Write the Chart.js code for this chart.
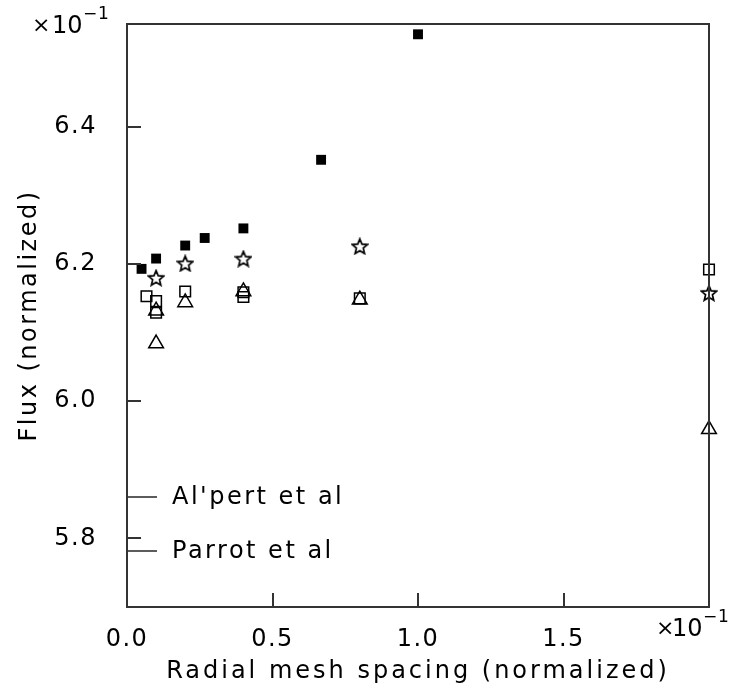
<!DOCTYPE html>
<html>
<head>
<meta charset="utf-8">
<script src="https://cdn.jsdelivr.net/npm/chart.js@4/dist/chart.umd.min.js"></script>
<style>
  html, body { margin: 0; padding: 0; background: #fff; }
  #wrap { width: 738px; height: 692px; }
</style>
</head>
<body>
<div id="wrap"><canvas id="myChart" width="738" height="692"></canvas></div>
<script>
// data
const xFilled = [0.05, 0.1, 0.2, 0.267, 0.4, 0.667, 1.0];
const yFilled = [6.193, 6.208, 6.227, 6.238, 6.252, 6.352, 6.535];
const xStar = [0.1, 0.2, 0.4, 0.8, 2.0];
const yStar = [6.180, 6.201, 6.208, 6.226, 6.158];
const xSquare = [0.067, 0.1, 0.1, 0.2, 0.4, 0.4, 0.8, 2.0];
const ySquare = [6.153, 6.146, 6.129, 6.160, 6.159, 6.152, 6.150, 6.192];
const xTriangle = [0.1, 0.1, 0.2, 0.4, 0.8, 2.0];
const yTriangle = [6.084, 6.132, 6.144, 6.160, 6.148, 5.959];

const xTicks = [0.0, 0.5, 1.0, 1.5];
const yTicks = [5.8, 6.0, 6.2, 6.4];
const refLabels = ["Al'pert et al", "Parrot et al"];
const refValues = [5.860, 5.781];

const FONT = "'DejaVu Sans', sans-serif";
const INK = '#000';
const AXIS = '#333';

// open five point star as a point image
function makeStar(size) {
    const c = document.createElement('canvas');
    c.width = size; c.height = size;
    const g = c.getContext('2d');
    const cx = size / 2, cy = size / 2 + 0.8;
    const R = size / 2 - 1, r = R * 0.45;
    g.beginPath();
    for (let i = 0; i < 10; i++) {
        const a = -Math.PI / 2 + i * Math.PI / 5;
        const rr = i % 2 === 0 ? R : r;
        const px = cx + rr * Math.cos(a), py = cy + rr * Math.sin(a);
        if (i === 0) g.moveTo(px, py); else g.lineTo(px, py);
    }
    g.closePath();
    g.lineWidth = 1.7;
    g.strokeStyle = INK;
    g.stroke();
    return c;
}

const pts = (xs, ys) => xs.map((x, i) => ({ x, y: ys[i] }));

const framePlugin = {
    id: 'frame',
    beforeDraw(chart) {
        chart.ctx.letterSpacing = '1.5px';
    },
    afterDraw(chart) {
        const { ctx, chartArea: a, scales } = chart;
        const xs = scales.x, ys = scales.y;
        ctx.save();
        ctx.strokeStyle = AXIS;
        ctx.lineWidth = 2;
        ctx.strokeRect(a.left, a.top, a.right - a.left, a.bottom - a.top);
        // inward ticks
        ctx.beginPath();
        xTicks.forEach(v => {
            if (v === 0) return;
            const px = Math.round(xs.getPixelForValue(v));
            ctx.moveTo(px, a.bottom); ctx.lineTo(px, a.bottom - 14);
        });
        yTicks.forEach(v => {
            const py = Math.round(ys.getPixelForValue(v));
            ctx.moveTo(a.left, py); ctx.lineTo(a.left + 14, py);
        });
        ctx.stroke();
        // reference values
        ctx.letterSpacing = '2.5px';
        ctx.lineWidth = 1.6;
        ctx.fillStyle = INK;
        ctx.font = '24px ' + FONT;
        ctx.textBaseline = 'middle';
        ctx.textAlign = 'left';
        refValues.forEach((v, i) => {
            const py = Math.round(ys.getPixelForValue(v));
            ctx.beginPath();
            ctx.moveTo(a.left, py); ctx.lineTo(a.left + 30, py);
            ctx.stroke();
            ctx.fillText(refLabels[i], a.left + 45, py + 1);
        });
        // axis titles
        ctx.textAlign = 'center';
        ctx.save();
        ctx.translate(30, (a.top + a.bottom) / 2);
        ctx.rotate(-Math.PI / 2);
        ctx.fillText('Flux (normalized)', 0, 0);
        ctx.restore();
        ctx.letterSpacing = '3px';
        ctx.fillText('Radial mesh spacing (normalized)', (a.left + a.right) / 2, 672);
        // exponent labels
        ctx.letterSpacing = '0px';
        const expo = (x, base, gap) => {
            ctx.textAlign = 'left';
            ctx.textBaseline = 'alphabetic';
            ctx.font = '22px ' + FONT;
            ctx.fillText('\u00d7', x, base - 1);
            ctx.font = '24px ' + FONT;
            ctx.fillText('10', x + gap, base);
            ctx.font = '17px ' + FONT;
            ctx.fillText('\u2212', x + gap + 31, base - 14);
            ctx.fillText('1', x + gap + 46, base - 14);
        };
        expo(32, 33, 20);
        expo(656, 636, 16);
        ctx.restore();
    }
};

const ctx = document.getElementById('myChart').getContext('2d');
const myChart = new Chart(ctx, {
    type: 'scatter',
    data: {
        datasets: [
            {
                label: 'filled',
                data: pts(xFilled, yFilled),
                pointStyle: 'rect',
                pointRadius: 7,
                backgroundColor: INK,
                borderColor: INK,
                borderWidth: 0
            },
            {
                label: 'star',
                data: pts(xStar, yStar),
                pointStyle: makeStar(18),
                pointRadius: 9
            },
            {
                label: 'square',
                data: pts(xSquare, ySquare),
                pointStyle: 'rect',
                pointRadius: 7.5,
                backgroundColor: 'rgba(0,0,0,0)',
                borderColor: INK,
                borderWidth: 1.5
            },
            {
                label: 'triangle',
                data: pts(xTriangle, yTriangle),
                pointStyle: 'triangle',
                pointRadius: 8.5,
                backgroundColor: 'rgba(0,0,0,0)',
                borderColor: INK,
                borderWidth: 1.5
            }
        ]
    },
    options: {
        responsive: false,
        animation: false,
        clip: false,
        layout: { padding: { left: 0, top: 24, right: 29, bottom: 0 } },
        plugins: { legend: { display: false }, tooltip: { enabled: false } },
        scales: {
            x: {
                type: 'linear',
                min: 0,
                max: 2.0,
                grid: { display: false },
                border: { display: false },
                afterBuildTicks: s => { s.ticks = xTicks.map(v => ({ value: v })); },
                afterFit: s => { s.height = 85; s.paddingLeft = 0; s.paddingRight = 0; },
                ticks: {
                    color: INK,
                    padding: 10,
                    maxRotation: 0,
                    font: { family: FONT, size: 24 },
                    callback: v => Number(v).toFixed(1)
                }
            },
            y: {
                type: 'linear',
                min: 5.70,
                max: 6.55,
                grid: { display: false },
                border: { display: false },
                afterBuildTicks: s => { s.ticks = yTicks.map(v => ({ value: v })); },
                afterFit: s => { s.width = 127; s.paddingTop = 0; s.paddingBottom = 0; },
                ticks: {
                    color: INK,
                    padding: 22,
                    font: { family: FONT, size: 24 },
                    callback: v => Number(v).toFixed(1)
                }
            }
        }
    },
    plugins: [framePlugin]
});
</script>
</body>
</html>
